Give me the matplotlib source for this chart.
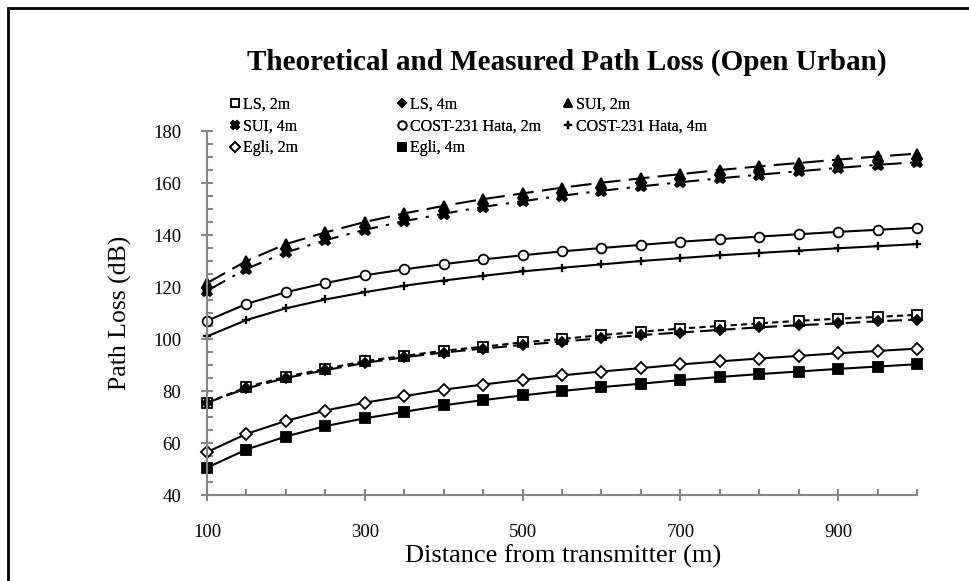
import matplotlib
matplotlib.use("Agg")
import matplotlib.pyplot as plt
from matplotlib.lines import Line2D
from matplotlib.patches import Rectangle
from matplotlib.ticker import MultipleLocator, FixedLocator

plt.rcParams['font.family'] = ['Liberation Serif', 'DejaVu Serif']

distance = [100, 150, 200, 250, 300, 350, 400, 450, 500, 550,
            600, 650, 700, 750, 800, 850, 900, 950, 1000]
x_tick_labels = [100, 300, 500, 700, 900]

ls_2m = [75.5, 81.5, 85.5, 88.5, 91.5, 93.5, 95.5, 97.0, 98.7, 100.0,
         101.5, 102.8, 104.0, 105.0, 106.0, 107.0, 107.8, 108.5, 109.3]
ls_4m = [75.5, 81.0, 85.0, 88.0, 90.8, 93.0, 94.8, 96.3, 97.7, 99.0,
         100.3, 101.5, 102.5, 103.5, 104.5, 105.3, 106.0, 106.8, 107.5]
sui_2m = [121.5, 130.0, 136.5, 141.0, 145.0, 148.3, 151.2, 153.8, 156.0, 158.2,
          160.1, 161.8, 163.4, 165.0, 166.4, 167.7, 169.0, 170.2, 171.3]
sui_4m = [118.5, 127.0, 133.3, 138.0, 142.0, 145.3, 148.2, 150.8, 153.0, 155.1,
          157.0, 158.7, 160.3, 161.8, 163.2, 164.5, 165.8, 167.0, 168.0]
cost_2m = [107.0, 113.5, 118.0, 121.5, 124.5, 126.8, 128.8, 130.6, 132.2, 133.7,
           135.0, 136.2, 137.4, 138.4, 139.4, 140.3, 141.2, 142.0, 142.8]
cost_4m = [101.0, 107.3, 111.8, 115.2, 118.0, 120.5, 122.5, 124.3, 126.0, 127.4,
           128.7, 130.0, 131.1, 132.2, 133.1, 134.0, 134.9, 135.7, 136.5]
egli_2m = [56.5, 63.5, 68.5, 72.5, 75.5, 78.0, 80.5, 82.5, 84.3, 86.0,
           87.5, 88.8, 90.2, 91.4, 92.5, 93.5, 94.5, 95.4, 96.3]
egli_4m = [50.5, 57.5, 62.5, 66.5, 69.5, 72.0, 74.5, 76.5, 78.3, 80.0,
           81.5, 82.8, 84.2, 85.4, 86.5, 87.5, 88.5, 89.4, 90.3]

labels = ["LS, 2m", "LS, 4m", "SUI, 2m", "SUI, 4m",
          "COST-231 Hata, 2m", "COST-231 Hata, 4m", "Egli, 2m", "Egli, 4m"]
series = [ls_2m, ls_4m, sui_2m, sui_4m, cost_2m, cost_4m, egli_2m, egli_4m]

styles = [
    dict(ls=(0, (3, 2)), marker='s', mfc='white', ms=6.5),
    dict(ls=(0, (7, 3)), marker='D', mfc='black', ms=5),
    dict(ls=(0, (10, 4)), marker='^', mfc='black', ms=6.5),
    dict(ls=(0, (10, 4, 1.5, 4)), marker='X', mfc='black', ms=7.5),
    dict(ls='-', marker='o', mfc='white', ms=7),
    dict(ls='-', marker='P', mfc='black', ms=6, mew=0.2),
    dict(ls='-', marker='D', mfc='white', ms=6.5),
    dict(ls='-', marker='s', mfc='black', ms=7),
]

fig = plt.figure(figsize=(9.69, 5.81), dpi=100)
ax = fig.add_axes([207/969, 1-495/581, 710/969, 364/581])

handles = []
for y, lab, st in zip(series, labels, styles):
    mew = st.pop('mew', 1.3)
    ax.plot(distance, y, color='black', lw=1.5, mec='black', mew=mew,
            clip_on=False, **st)
    handles.append(Line2D([], [], color='black', ls='none', marker=st['marker'],
                          mfc=st['mfc'], mec='black', mew=mew,
                          ms=st['ms'] * 0.85, label=lab))

ax.set_xlim(100, 1000)
ax.set_ylim(40, 180)
ax.xaxis.set_major_locator(FixedLocator(x_tick_labels))
ax.xaxis.set_minor_locator(MultipleLocator(50))
ax.yaxis.set_major_locator(MultipleLocator(20))
ax.yaxis.set_minor_locator(MultipleLocator(5))

gray = '#868686'
for s in ['top', 'right']:
    ax.spines[s].set_visible(False)
for s in ['left', 'bottom']:
    ax.spines[s].set_color(gray)
    ax.spines[s].set_linewidth(1.5)
ax.tick_params(which='major', direction='inout', length=9, width=1.5,
               color=gray, labelsize=13.5, labelcolor='black')
ax.tick_params(which='minor', direction='in', length=4, width=1.5, color=gray)
ax.tick_params(axis='x', which='major', pad=16.5)
ax.tick_params(axis='y', which='major', pad=14)

ax.set_xlabel("Distance from transmitter (m)", fontsize=19)
ax.xaxis.label.set_va('center')
ax.xaxis.set_label_coords((563-207)/710, (495-556)/364)
ax.set_ylabel("Path Loss (dB)", fontsize=18.5)
ax.yaxis.label.set_va('center')
ax.yaxis.set_label_coords((120-207)/710, 0.5)

fig.text(567/969, 1-62/581, "Theoretical and Measured Path Loss (Open Urban)",
         fontsize=21, fontweight='bold', ha='center', va='center')

order = [[0, 3, 6], [1, 4, 7], [2, 5]]
col_x = [229, 396, 562]
for cols, cx in zip(order, col_x):
    fig.add_artist(fig.legend(handles=[handles[i] for i in cols], loc='upper left',
                              bbox_to_anchor=(cx/969, 1-97/581), frameon=False,
                              fontsize=11.5, handlelength=0.7, handletextpad=0.15,
                              labelspacing=0.36, borderpad=0, borderaxespad=0))

fig.add_artist(Rectangle((8/969, -0.05), 1.2, 1.05 - 8/581,
                         transform=fig.transFigure, fill=False,
                         ec='black', lw=2))

fig.savefig("out.png", dpi=100)
